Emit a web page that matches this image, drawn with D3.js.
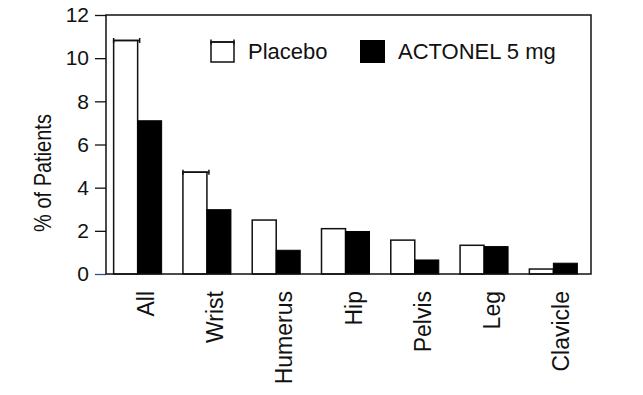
<!DOCTYPE html>
<html>
<head>
<meta charset="utf-8">
<script src="https://cdn.jsdelivr.net/npm/d3@7"></script>
<style>
  body { margin: 0; background: #fff; }
  svg { display: block; font-family: "Liberation Sans", Arial, sans-serif; }
</style>
</head>
<body>
<div id="chart"></div>
<script>
// Data
const categories = ['All', 'Wrist', 'Humerus', 'Hip', 'Pelvis', 'Leg', 'Clavicle'];
const placebo = [10.82, 4.72, 2.5, 2.1, 1.57, 1.33, 0.23];
const actonel = [7.1, 2.98, 1.1, 1.97, 0.65, 1.27, 0.5];
const capped = ['All', 'Wrist']; // placebo bars drawn with an error cap
const seriesNames = ['Placebo', 'ACTONEL 5 mg'];
const yTicks = [0, 2, 4, 6, 8, 10, 12];

const W = 643, H = 395;
const margin = { top: 15, right: 52, bottom: 121, left: 106 };
const width = W - margin.left - margin.right;
const height = H - margin.top - margin.bottom;

const svg = d3.select('#chart')
    .append('svg')
    .attr('width', W)
    .attr('height', H);

const g = svg.append('g')
    .attr('transform', `translate(${margin.left},${margin.top})`);

// Scales
const x = d3.scaleBand()
    .domain(categories)
    .range([-3, width - 3]);

const y = d3.scaleLinear()
    .domain([0, 12])
    .range([height, 0]);

const barW = 24;

// Y axis
const yAxis = g.append('g')
    .call(d3.axisLeft(y).tickValues(yTicks).tickSize(11).tickPadding(6));
yAxis.select('.domain').remove();
yAxis.selectAll('line').attr('stroke', '#111').attr('stroke-width', 1.3);
yAxis.selectAll('.tick').filter(d => d === 0).select('line').attr('stroke', '#34508f');
yAxis.selectAll('text')
    .attr('font-size', 21)
    .attr('fill', '#111')
    .attr('font-family', '"Liberation Sans", Arial, sans-serif');

// X axis labels (no ticks)
const xAxis = g.append('g')
    .attr('transform', `translate(0,${height})`)
    .call(d3.axisBottom(x).tickSize(0));
xAxis.select('.domain').remove();
xAxis.selectAll('text')
    .attr('font-size', 23)
    .attr('fill', '#111')
    .attr('font-family', '"Liberation Sans", Arial, sans-serif')
    .attr('text-anchor', 'end')
    .attr('transform', 'rotate(-90)')
    .attr('x', -17)
    .attr('y', 8)
    .attr('dy', '0.35em');

// Placebo bars
g.selectAll('.placebo')
    .data(categories)
    .enter()
    .append('rect')
    .attr('class', 'placebo')
    .attr('x', d => x(d) + x.bandwidth() / 2 - barW)
    .attr('y', (d, i) => y(placebo[i]))
    .attr('width', barW)
    .attr('height', (d, i) => height - y(placebo[i]))
    .attr('fill', '#fff')
    .attr('stroke', '#111')
    .attr('stroke-width', 1.5);

// Actonel bars
g.selectAll('.actonel')
    .data(categories)
    .enter()
    .append('rect')
    .attr('class', 'actonel')
    .attr('x', d => x(d) + x.bandwidth() / 2)
    .attr('y', (d, i) => y(actonel[i]))
    .attr('width', barW)
    .attr('height', (d, i) => height - y(actonel[i]))
    .attr('fill', '#000')
    .attr('stroke', '#000')
    .attr('stroke-width', 1);

// Error caps on placebo bars
function drawCap(sel, cx, cy, w) {
    sel.append('path')
        .attr('d', `M${cx - w / 2},${cy - 2.5}V${cy + 2.5}M${cx - w / 2},${cy}H${cx + w / 2}M${cx + w / 2},${cy - 2.5}V${cy + 2.5}`)
        .attr('fill', 'none')
        .attr('stroke', '#111')
        .attr('stroke-width', 1.5);
}
capped.forEach(c => {
    const i = categories.indexOf(c);
    drawCap(g, x(c) + x.bandwidth() / 2 - barW / 2 + 1, y(placebo[i]), barW + 2);
});

// Frame
g.append('rect')
    .attr('x', 0)
    .attr('y', 0)
    .attr('width', width)
    .attr('height', height)
    .attr('fill', 'none')
    .attr('stroke', '#111')
    .attr('stroke-width', 1.5);

// Y axis title (glyphs slightly wide in the reference)
svg.append('text')
    .attr('transform', 'translate(51,173) scale(1.2,1) rotate(-90)')
    .attr('text-anchor', 'middle')
    .attr('font-size', 20)
    .attr('fill', '#111')
    .text('% of Patients');

// Legend
const legend = svg.append('g');
legend.append('rect')
    .attr('x', 211).attr('y', 42)
    .attr('width', 23).attr('height', 20)
    .attr('fill', '#fff')
    .attr('stroke', '#111')
    .attr('stroke-width', 1.5);
drawCap(legend, 222.5, 42, 23);
legend.append('text')
    .attr('x', 248).attr('y', 59)
    .attr('font-size', 22)
    .attr('fill', '#111')
    .text(seriesNames[0]);
legend.append('rect')
    .attr('x', 360).attr('y', 40)
    .attr('width', 25).attr('height', 23)
    .attr('fill', '#000');
legend.append('text')
    .attr('x', 398).attr('y', 59)
    .attr('font-size', 22)
    .attr('fill', '#111')
    .text(seriesNames[1]);
</script>
</body>
</html>
